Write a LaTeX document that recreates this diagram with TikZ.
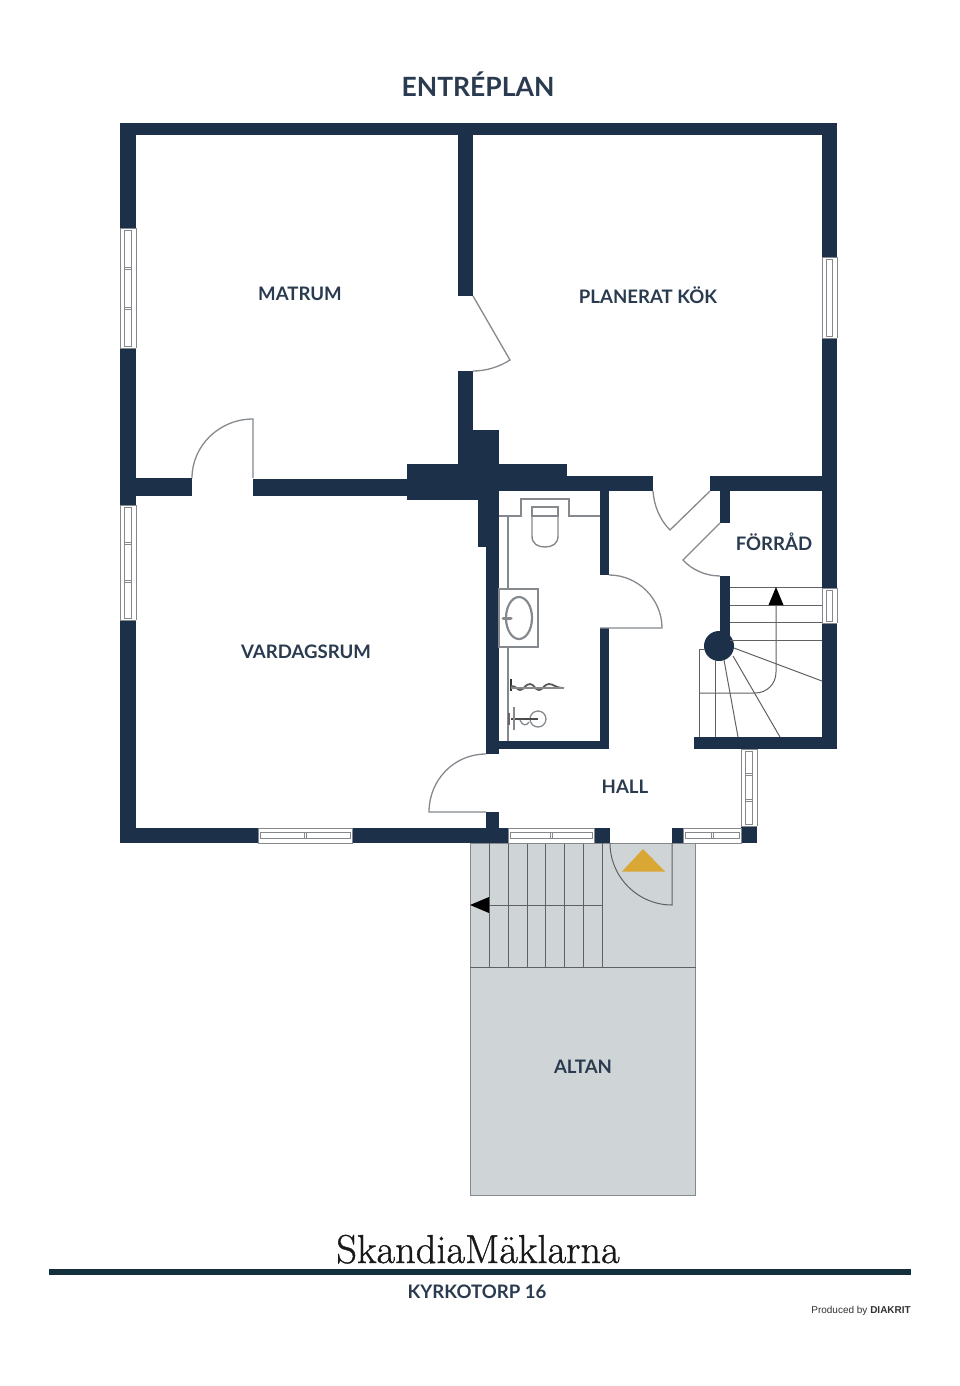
\documentclass[tikz,border=0pt]{standalone}
\usepackage{fontspec}
\setmainfont{Lato}
\newfontfamily\serifbrand[FakeBold=0.9]{Latin Modern Roman}
\newfontfamily\credit{Liberation Sans}
\definecolor{wall}{HTML}{1C3049}
\definecolor{labelc}{HTML}{2A3B50}
\definecolor{thinc}{HTML}{85898E}
\definecolor{deck}{HTML}{CFD4D7}
\definecolor{gold}{HTML}{D9A733}
\definecolor{rulec}{HTML}{14303F}
\tikzset{x=1pt,y=-1pt,
  wallfill/.style={fill=wall,draw=none},
  thinline/.style={draw=thinc,line width=1.3pt},
  stairline/.style={draw=black!62,line width=1pt},
  roomlabel/.style={text=labelc,font=\fontsize{18.6}{20}\selectfont\bfseries,inner sep=0pt,anchor=base},
  winline/.style={draw=thinc,line width=0.9pt}}
\newcommand{\vwin}[5]{% x1 x2 y1 y2 panes
  \fill[white] (#1,#3) rectangle (#2,#4);
  \draw[winline] (#1,#3) -- (#1,#4) (#2,#3) -- (#2,#4) (#1,#3) -- (#2,#3) (#1,#4) -- (#2,#4);
  \pgfmathsetmacro{\xa}{#1+0.3*(#2-#1)}\pgfmathsetmacro{\xb}{#1+0.7*(#2-#1)}
  \draw[winline] (\xa,#3+2) rectangle (\xb,#4-2);
  \foreach \k in {1,...,#5}{\pgfmathsetmacro{\yy}{#3+\k*(#4-#3)/#5}
    \ifnum\k<#5 \draw[winline] (\xa,\yy-1) -- (\xb,\yy-1) (\xa,\yy+1) -- (\xb,\yy+1);\fi}
}
\newcommand{\hwin}[5]{% x1 x2 y1 y2 panes
  \fill[white] (#1,#3) rectangle (#2,#4);
  \draw[winline] (#1,#3) rectangle (#2,#4);
  \pgfmathsetmacro{\ya}{#3+0.3*(#4-#3)}\pgfmathsetmacro{\yb}{#3+0.7*(#4-#3)}
  \draw[winline] (#1+2,\ya) rectangle (#2-2,\yb);
  \foreach \k in {1,...,#5}{\pgfmathsetmacro{\xx}{#1+\k*(#2-#1)/#5}
    \ifnum\k<#5 \draw[winline] (\xx-1,\ya) -- (\xx-1,\yb) (\xx+1,\ya) -- (\xx+1,\yb);\fi}
}
\begin{document}
\begin{tikzpicture}
\useasboundingbox (0,0) rectangle (960,1386);
\fill[white] (0,0) rectangle (960,1386);
% deck
\fill[deck] (470,843) rectangle (695.5,1195);
\draw[thinline,line width=1pt] (470,843) rectangle (695.5,1195);
\draw[stairline] (470,967) -- (695.5,967);
\foreach \x in {489,508,527,545,564,583,602}{\draw[stairline] (\x,843) -- (\x,967);}
\draw[stairline] (602,905) -- (489,905);
\fill[black] (470,905) -- (489,897) -- (489,913) -- cycle;
\draw[stairline] (672,843) -- (672,905) .. controls (638,905) and (610,877) .. (610,843);
\fill[gold] (643,849) -- (665,871.5) -- (622,871.5) -- cycle;
% walls
\fill[wallfill] (120,123) rectangle (837,135);
\fill[wallfill] (120,123) rectangle (136,843);
\fill[wallfill] (822,123) rectangle (837,749);
\fill[wallfill] (120,828) rectangle (508,843);
\fill[wallfill] (458,135) rectangle (473,296);
\fill[wallfill] (458,371) rectangle (473,430);
\fill[wallfill] (136,478) rectangle (192,496);
\fill[wallfill] (253,479) rectangle (407,496);
\fill[wallfill] (407,464) rectangle (499,500);
\fill[wallfill] (458,430) rectangle (499,464);
\fill[wallfill] (499,464) rectangle (567,491);
\fill[wallfill] (567,476) rectangle (653,491);
\fill[wallfill] (478,500) rectangle (499,547);
\fill[wallfill] (486,547) rectangle (499,754);
\fill[wallfill] (486,812) rectangle (499,843);
\fill[wallfill] (499,741) rectangle (609,749);
\fill[wallfill] (600,491) rectangle (609,575);
\fill[wallfill] (600,628) rectangle (609,749);
\fill[wallfill] (710,476) rectangle (837,491);
\fill[wallfill] (720,491) rectangle (730,523);
\fill[wallfill] (720,576) rectangle (730,640);
\fill[wallfill] (719,646) circle[radius=15];
\fill[wallfill] (694,737) rectangle (837,749);
\fill[wallfill] (594,828) rectangle (610,843);
\fill[wallfill] (672,828) rectangle (683,843);
\fill[wallfill] (741,826) rectangle (757,843);
% windows
\vwin{120}{136}{228}{348}{3}
\vwin{120}{136}{505}{620}{3}
\vwin{822}{837}{257}{338}{1}
\vwin{822}{837}{588}{623}{1}
\vwin{741}{757}{749}{826}{3}
\hwin{258}{352}{828}{843}{2}
\hwin{508}{594}{828}{843}{2}
\hwin{683}{741}{828}{843}{2}
% doors
\draw[thinline] (253,478) -- (253,419) .. controls (219,419) and (192,446) .. (192,478);
\draw[thinline] (473,296) -- (510,360) .. controls (499,367) and (486,371) .. (473,371);
\draw[thinline] (609,575) .. controls (638,575) and (662,599) .. (662,628) -- (600,628);
\draw[thinline] (653,491) .. controls (654,506) and (660,520) .. (670,530) -- (710,491);
\draw[thinline] (720,523) -- (683,560) .. controls (692,570) and (706,576) .. (720,576);
\draw[thinline] (486,754) .. controls (454,754) and (429,780) .. (429,812) -- (486,812);
% stairs
\foreach \y in {587,605,622,640}{\draw[stairline] (730,\y) -- (822,\y);}
\draw[stairline] (734,648) -- (822,681);
\draw[stairline] (733,656) -- (780,737);
\draw[stairline] (724,660) -- (738,737);
\draw[stairline] (715,660) -- (715,737);
\draw[stairline] (705,649) -- (699,649) -- (699,737);
\draw[stairline] (699,693) -- (755,693) .. controls (767,693) and (776,684) .. (776,672) -- (776,605);
\fill[black] (776,587) -- (783.5,605) -- (768.5,605) -- cycle;
% bathroom
\draw[thinline] (508,516) -- (508,741);
\draw[thinline] (499,516) -- (521,516) -- (521,499) -- (569,499) -- (569,516) -- (600,516);
\draw[thinline,line width=1.4pt] (532,507) rectangle (558,516);
\draw[thinline,line width=1.4pt] (532,516) -- (532,536) .. controls (532,544) and (538,547) .. (545,547) .. controls (552,547) and (558,544) .. (558,536) -- (558,516);
\fill[white] (499,589) rectangle (538,647);
\draw[thinline] (499,589) rectangle (538,647);
\draw[thinc,line width=2.2pt] (519,618) ellipse[x radius=13,y radius=21];
\draw[thinc,line width=3pt,line cap=round] (503,618.5) -- (511,618.5);
\draw[black!80,line width=1.8pt] (511,679) -- (511,691);
\draw[black!65,line width=1.8pt] (511,686) .. controls (517,686) and (517,690) .. (520,690) .. controls (524,690) and (525,684) .. (530,684) .. controls (534,684) and (535,690) .. (539,690) .. controls (543,690) and (544,684) .. (549,684) .. controls (554,684) and (555,688) .. (564,688);
\draw[thinc,line width=1.2pt] (511,688) -- (564,688);
\draw[thinline] (538,719) circle[radius=8];
\draw[black!70,line width=1.5pt] (511,719) -- (538,719);
\draw[thinc,line width=2.4pt] (514,707) -- (514,730);
\draw[black!60,line width=2.4pt] (509,713) -- (509,725);
\draw[thinline] (520,720) .. controls (522,726) and (527,726) .. (529,722);
% labels
\node[roomlabel,font=\fontsize{26.5}{28}\selectfont\bfseries] (entreplan) at (478,97) {ENTRÉPLAN};
\node[roomlabel] (matrum) at (300,300) {MATRUM};
\node[roomlabel] (kok) at (648,303) {PLANERAT KÖK};
\node[roomlabel] (vardagsrum) at (306,658) {VARDAGSRUM};
\node[roomlabel] (forrad) at (774,550) {FÖRRÅD};
\node[roomlabel] (hall) at (625,793) {HALL};
\node[roomlabel] (altan) at (583,1073) {ALTAN};
\node[inner sep=0pt,anchor=base,text=black!90] (brand) at (478,1263) {\serifbrand\fontsize{40.4}{44}\selectfont SkandiaMäklarna};
\fill[rulec] (49,1269) rectangle (911,1275);
\node[roomlabel] (addr) at (477,1298) {KYRKOTORP 16};
\node[inner sep=0pt,anchor=east,text=black!80] (prod) at (911,1311) {\credit\fontsize{10}{12}\selectfont Produced by \textbf{DIAKRIT}};
\end{tikzpicture}
\end{document}
